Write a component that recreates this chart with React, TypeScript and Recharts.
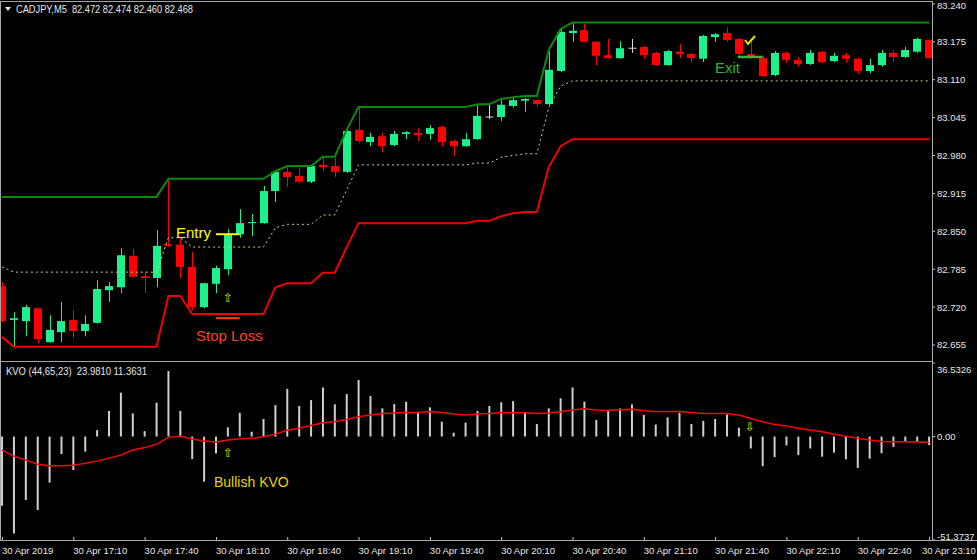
import React from "react";
import { ComposedChart, Bar, Line, XAxis, YAxis, ReferenceLine } from "recharts";

// 5-minute bars, 30 Apr 2019, 16:40 .. 23:10
const tickBars = [0, 6, 12, 18, 24, 30, 36, 42, 48, 54, 60, 66, 72, 78];
const tickLabels = [
  "30 Apr 2019", "30 Apr 17:10", "30 Apr 17:40", "30 Apr 18:10", "30 Apr 18:40",
  "30 Apr 19:10", "30 Apr 19:40", "30 Apr 20:10", "30 Apr 20:40", "30 Apr 21:10",
  "30 Apr 21:40", "30 Apr 22:10", "30 Apr 22:40", "30 Apr 23:10",
];

const opens = [
  82.756, 82.698, 82.696, 82.718, 82.660, 82.677, 82.698, 82.679, 82.693, 82.749,
  82.754, 82.808, 82.773, 82.770, 82.828, 82.827, 82.789, 82.720, 82.760, 82.785,
  82.845, 82.864, 82.864, 82.919, 82.952, 82.945, 82.935, 82.964, 82.962, 82.952,
  83.024, 83.003, 83.013, 82.998, 83.017, 83.019, 83.017, 83.029, 83.005, 82.996,
  83.008, 83.046, 83.046, 83.065, 83.074, 83.075, 83.068, 83.125, 83.190, 83.195,
  83.175, 83.152, 83.147, 83.164, 83.166, 83.156, 83.135, 83.158, 83.154, 83.146,
  83.183, 83.190, 83.180, 83.154, 83.147, 83.118, 83.156, 83.144, 83.137, 83.158,
  83.142, 83.152, 83.146, 83.125, 83.135, 83.156, 83.149, 83.158, 83.178,
];
const highs = [
  82.763, 82.712, 82.724, 82.719, 82.706, 82.729, 82.715, 82.706, 82.766, 82.763,
  82.821, 82.820, 82.780, 82.852, 82.940, 82.840, 82.815, 82.762, 82.791, 82.854,
  82.888, 82.880, 82.928, 82.955, 82.960, 82.959, 82.964, 82.977, 82.977, 83.024,
  83.063, 83.019, 83.019, 83.022, 83.022, 83.027, 83.032, 83.031, 83.007, 83.019,
  83.067, 83.067, 83.077, 83.080, 83.079, 83.077, 83.158, 83.199, 83.207, 83.206,
  83.176, 83.180, 83.176, 83.180, 83.168, 83.158, 83.161, 83.171, 83.156, 83.187,
  83.190, 83.200, 83.182, 83.176, 83.151, 83.159, 83.158, 83.149, 83.161, 83.159,
  83.156, 83.156, 83.147, 83.146, 83.161, 83.161, 83.166, 83.182, 83.180,
];
const lows = [
  82.694, 82.652, 82.670, 82.658, 82.659, 82.660, 82.667, 82.670, 82.692, 82.729,
  82.744, 82.771, 82.744, 82.754, 82.823, 82.770, 82.715, 82.718, 82.744, 82.775,
  82.839, 82.842, 82.863, 82.900, 82.926, 82.933, 82.933, 82.953, 82.943, 82.950,
  83.001, 82.996, 82.986, 82.996, 83.008, 83.005, 83.007, 82.995, 82.979, 82.995,
  83.007, 83.043, 83.039, 83.062, 83.055, 83.063, 83.067, 83.123, 83.175, 83.174,
  83.135, 83.146, 83.146, 83.156, 83.146, 83.134, 83.134, 83.147, 83.139, 83.140,
  83.175, 83.175, 83.149, 83.146, 83.115, 83.116, 83.139, 83.132, 83.135, 83.139,
  83.140, 83.139, 83.120, 83.121, 83.132, 83.140, 83.147, 83.156, 83.146,
];
const closes = [
  82.696, 82.701, 82.720, 82.665, 82.681, 82.696, 82.679, 82.691, 82.751, 82.756,
  82.809, 82.772, 82.770, 82.825, 82.825, 82.789, 82.720, 82.761, 82.787, 82.845,
  82.864, 82.866, 82.919, 82.952, 82.943, 82.935, 82.962, 82.960, 82.952, 83.022,
  83.005, 83.012, 82.996, 83.017, 83.020, 83.015, 83.027, 83.003, 82.996, 83.008,
  83.048, 83.046, 83.067, 83.075, 83.077, 83.068, 83.127, 83.192, 83.194, 83.175,
  83.151, 83.147, 83.164, 83.164, 83.152, 83.135, 83.159, 83.154, 83.147, 83.185,
  83.188, 83.178, 83.154, 83.149, 83.116, 83.156, 83.144, 83.137, 83.156, 83.140,
  83.151, 83.146, 83.125, 83.135, 83.156, 83.149, 83.161, 83.180, 83.147,
];

const upperBand = [
  82.909, 82.909, 82.909, 82.909, 82.909, 82.909, 82.909, 82.909, 82.909, 82.909,
  82.909, 82.909, 82.909, 82.909, 82.940, 82.940, 82.940, 82.940, 82.940, 82.940,
  82.940, 82.940, 82.940, 82.953, 82.962, 82.962, 82.962, 82.978, 82.978, 83.024,
  83.063, 83.063, 83.063, 83.063, 83.063, 83.063, 83.063, 83.063, 83.063, 83.063,
  83.068, 83.068, 83.077, 83.080, 83.082, 83.082, 83.161, 83.197, 83.208, 83.208,
  83.208, 83.208, 83.208, 83.208, 83.208, 83.208, 83.208, 83.208, 83.208, 83.208,
  83.208, 83.208, 83.208, 83.208, 83.208, 83.208, 83.208, 83.208, 83.208, 83.208,
  83.208, 83.208, 83.208, 83.208, 83.208, 83.208, 83.208, 83.208, 83.208,
];
const middleBand = [
  82.789, 82.780, 82.780, 82.780, 82.780, 82.780, 82.780, 82.780, 82.780, 82.780,
  82.780, 82.780, 82.780, 82.780, 82.839, 82.839, 82.823, 82.823, 82.823, 82.823,
  82.823, 82.823, 82.823, 82.856, 82.862, 82.862, 82.862, 82.878, 82.878, 82.921,
  82.964, 82.964, 82.964, 82.964, 82.964, 82.964, 82.964, 82.964, 82.964, 82.964,
  82.967, 82.967, 82.977, 82.980, 82.983, 82.983, 83.062, 83.099, 83.108, 83.108,
  83.108, 83.108, 83.108, 83.108, 83.108, 83.108, 83.108, 83.108, 83.108, 83.108,
  83.108, 83.108, 83.108, 83.108, 83.108, 83.108, 83.108, 83.108, 83.108, 83.108,
  83.108, 83.108, 83.108, 83.108, 83.108, 83.108, 83.108, 83.108, 83.108,
];
const lowerBand = [
  82.669, 82.652, 82.652, 82.652, 82.652, 82.652, 82.652, 82.652, 82.652, 82.652,
  82.652, 82.652, 82.652, 82.652, 82.739, 82.739, 82.708, 82.708, 82.708, 82.708,
  82.708, 82.708, 82.708, 82.754, 82.761, 82.761, 82.761, 82.779, 82.779, 82.823,
  82.864, 82.864, 82.864, 82.864, 82.864, 82.864, 82.864, 82.864, 82.864, 82.864,
  82.868, 82.868, 82.876, 82.881, 82.883, 82.883, 82.960, 82.996, 83.008, 83.008,
  83.008, 83.008, 83.008, 83.008, 83.008, 83.008, 83.008, 83.008, 83.008, 83.008,
  83.008, 83.008, 83.008, 83.008, 83.008, 83.008, 83.008, 83.008, 83.008, 83.008,
  83.008, 83.008, 83.008, 83.008, 83.008, 83.008, 83.008, 83.008, 83.008,
];

// KVO (44,65,23)
const kvoHist = [
  -34.4, -48.1, -31.5, -36.5, -22.9, -8.7, -16.6, -7.5, 3.2, 12.7,
  21.8, 11.5, 2.7, 16.8, 32.5, 12.7, -11.2, -22.4, -8.4, 4.6,
  11.8, 2.4, 8.7, 15.6, 23.6, 15.2, 18.1, 24.4, 16.0, 21.1,
  28.1, 20.1, 14.0, 16.1, 17.3, 11.8, 14.5, 7.4, 1.9, 6.9,
  12.7, 15.2, 17.0, 17.6, 11.8, 6.2, 14.0, 19.0, 24.4, 17.3,
  8.2, 12.7, 14.0, 16.0, 10.7, 6.0, 9.5, 11.8, 6.2, 7.7,
  8.7, 11.0, 4.4, -5.9, -14.7, -10.2, -4.4, -9.2, -5.9, -10.0,
  -8.0, -11.3, -15.6, -11.0, -8.3, -5.1, -2.5, -2.5, -4.2,
];
const kvoSignal = [
  -6.7, -9.7, -11.7, -13.7, -14.5, -14.5, -14.2, -13.3, -12.2, -10.7,
  -9.2, -6.7, -5.4, -3.9, -0.4, 0.2, -1.2, -2.2, -2.7, -1.7,
  -1.1, -0.9, -0.1, 1.2, 3.1, 4.1, 5.5, 6.9, 7.4, 8.5,
  9.9, 10.7, 11.5, 11.7, 12.0, 12.0, 12.5, 12.0, 11.2, 10.7,
  11.2, 11.5, 11.8, 11.8, 11.8, 11.5, 11.7, 12.3, 13.2, 13.8,
  13.2, 13.0, 13.3, 13.5, 12.8, 12.5, 12.5, 12.5, 12.0, 11.5,
  11.5, 11.5, 10.7, 9.0, 7.4, 6.0, 5.2, 4.1, 3.2, 2.4,
  1.2, 0.2, -0.9, -1.7, -2.4, -2.6, -2.6, -2.7, -2.9,
];

const priceTicks = [82.655, 82.72, 82.785, 82.85, 82.915, 82.98, 83.045, 83.11, 83.175, 83.24];
const kvoTicks = [-51.3737, 0, 36.5326];

// trade marks
const entryLevel = 82.845;
const stopLevel = 82.701;
const exitLevel = 83.149;

const rows = opens.map((o, i) => ({
  i,
  open: o,
  high: highs[i],
  low: lows[i],
  close: closes[i],
  upper: upperBand[i],
  middle: middleBand[i],
  lower: lowerBand[i],
  kvo: kvoHist[i],
  signal: kvoSignal[i],
}));

const BULL = "#1ef08c";
const BEAR = "#ff0000";
const DOJI = "#d8d8d8";
const FRAME = "#a8a8a8";
const UI_FONT = '"Liberation Sans", Arial, sans-serif';
const X_DOMAIN: [number, number] = [-0.168, 78.25];

const Candle = (props: any) => {
  const { x, y, width, height, payload } = props;
  if (!payload) return null;
  const top = Math.min(y, y + height);
  const h = Math.abs(height);
  const { open, close, high, low } = payload;
  const k = high > low ? h / (high - low) : 0;
  const cx = Math.round(x + width / 2) + 0.5;
  const yO = top + (high - open) * k;
  const yC = top + (high - close) * k;
  const color = close > open ? BULL : close < open ? BEAR : DOJI;
  const bTop = Math.min(yO, yC);
  const bH = Math.max(1, Math.abs(yC - yO));
  return (
    <g>
      <line x1={cx} x2={cx} y1={top} y2={top + h} stroke={color} strokeWidth={1} />
      {close === open ? (
        <line x1={cx - 4} x2={cx + 4} y1={yO} y2={yO} stroke={color} strokeWidth={1} />
      ) : (
        <rect x={cx - 4.5} y={bTop} width={8} height={bH} fill={color} />
      )}
    </g>
  );
};

const PriceTick = ({ x, y, payload }: any) => (
  <g>
    <line x1={x} x2={x + 3} y1={y} y2={y} stroke="#c8c8c8" />
    <text x={x + 5} y={Math.max(y + 3.4, 9)} fill="#e8e8e8" fontSize={9.5} fontFamily={UI_FONT}>
      {payload.value.toFixed(3)}
    </text>
  </g>
);

const KvoTick = ({ x, y, payload }: any) => {
  const v = payload.value;
  const label = v === 0 ? "0.00" : v.toFixed(4);
  const ty = Math.min(Math.max(y + 3.5, 11.5), 178.5);
  return (
    <g>
      <line x1={x} x2={x + 3} y1={y} y2={y} stroke="#c8c8c8" />
      <text x={x + 5} y={ty} fill="#e8e8e8" fontSize={9.5} fontFamily={UI_FONT}>
        {label}
      </text>
    </g>
  );
};

const TimeTick = ({ x, y, payload }: any) => {
  const idx = tickBars.indexOf(payload.value);
  // keep the last label inside the window
  const tx = Math.min(x, 977 - 55);
  return (
    <g>
      <line x1={x + 0.5} x2={x + 0.5} y1={y - 3} y2={y + 1} stroke="#c8c8c8" />
      <text x={tx} y={y + 13.5} fill="#e8e8e8" fontSize={9.5} fontFamily={UI_FONT}>
        {tickLabels[idx]}
      </text>
    </g>
  );
};

export default function App() {
  return (
    <div
      style={{
        position: "relative",
        width: 977,
        height: 560,
        background: "#000",
        overflow: "hidden",
      }}
    >
      <style>{`body{margin:0;background:#000}`}</style>

      <div style={{ position: "absolute", left: 0, top: 0 }}>
        <ComposedChart width={977} height={361} data={rows} margin={{ top: 0, right: 0, left: 0, bottom: 0 }}>
          <XAxis type="number" dataKey="i" domain={X_DOMAIN} allowDataOverflow hide />
          <YAxis
            orientation="right"
            width={45}
            domain={[82.6276, 83.2467]}
            allowDataOverflow
            ticks={priceTicks}
            interval={0}
            axisLine={false}
            tickLine={false}
            tickSize={0}
            tickMargin={0}
            tick={<PriceTick />}
          />
          <Bar
            dataKey={(d: any) => [d.low, d.high]}
            barSize={8}
            shape={(p: any) => <Candle {...p} />}
            isAnimationActive={false}
          />
          <Line type="linear" dataKey="upper" stroke="#0a8a0a" strokeWidth={2} dot={false} activeDot={false} isAnimationActive={false} />
          <Line type="linear" dataKey="lower" stroke="#f00000" strokeWidth={2} dot={false} activeDot={false} isAnimationActive={false} />
          <Line type="linear" dataKey="middle" stroke="#d4cc90" strokeWidth={1} strokeDasharray="2 3" dot={false} activeDot={false} isAnimationActive={false} />
          <ReferenceLine segment={[{ x: 18, y: entryLevel }, { x: 20, y: entryLevel }]} stroke="#ffff00" strokeWidth={2} />
          <ReferenceLine segment={[{ x: 18, y: stopLevel }, { x: 20, y: stopLevel }]} stroke="#ff4500" strokeWidth={2} />
          <ReferenceLine segment={[{ x: 61.9, y: exitLevel }, { x: 64, y: exitLevel }]} stroke="#3cb43c" strokeWidth={2.5} />
        </ComposedChart>
      </div>

      <div style={{ position: "absolute", left: 0, top: 361 }}>
        <ComposedChart width={977} height={199} data={rows} margin={{ top: 2, right: 0, left: 0, bottom: 0 }}>
          <XAxis
            type="number"
            dataKey="i"
            domain={X_DOMAIN}
            allowDataOverflow
            ticks={tickBars}
            interval={0}
            height={20}
            axisLine={false}
            tickLine={false}
            tickSize={0}
            tickMargin={0}
            tick={<TimeTick />}
          />
          <YAxis
            orientation="right"
            width={45}
            domain={[-51.3737, 36.5326]}
            allowDataOverflow
            ticks={kvoTicks}
            interval={0}
            axisLine={false}
            tickLine={false}
            tickSize={0}
            tickMargin={0}
            tick={<KvoTick />}
          />
          <Bar dataKey="kvo" barSize={2} fill="#d0d0d0" isAnimationActive={false} />
          <Line type="linear" dataKey="signal" stroke="#ff0000" strokeWidth={1.5} dot={false} activeDot={false} isAnimationActive={false} />
        </ComposedChart>
      </div>

      <svg
        width={977}
        height={560}
        style={{ position: "absolute", left: 0, top: 0, pointerEvents: "none" }}
      >
        {/* frame */}
        <line x1={0} x2={933} y1={1.5} y2={1.5} stroke={FRAME} />
        <line x1={0.5} x2={0.5} y1={1} y2={541} stroke={FRAME} />
        <line x1={932.5} x2={932.5} y1={1} y2={541} stroke={FRAME} />
        <line x1={0} x2={933} y1={361.5} y2={361.5} stroke={FRAME} />
        <line x1={0} x2={977} y1={540.5} y2={540.5} stroke={FRAME} />

        {/* headers */}
        <polygon points="5,7 11,7 8,11" fill="#e8e8e8" />
        <text x={16} y={13} fill="#e8e8e8" fontSize={10} fontFamily={UI_FONT} textLength={177} lengthAdjust="spacingAndGlyphs" style={{ whiteSpace: "pre" }}>
          {"CADJPY,M5  82.472 82.474 82.460 82.468"}
        </text>
        <text x={6} y={375} fill="#e8e8e8" fontSize={10} fontFamily={UI_FONT} textLength={141} lengthAdjust="spacingAndGlyphs" style={{ whiteSpace: "pre" }}>
          {"KVO (44,65,23)  23.9810 11.3631"}
        </text>

        {/* annotations */}
        <text x={176} y={238} fill="#ffff00" fontSize={15} fontFamily={UI_FONT}>Entry</text>
        <text x={196} y={341} fill="#ff4019" fontSize={15} fontFamily={UI_FONT}>Stop Loss</text>
        <text x={715} y={73} fill="#32b432" fontSize={15} fontFamily={UI_FONT}>Exit</text>
        <text x={214} y={487} fill="#e8d400" fontSize={14} fontFamily={UI_FONT}>Bullish KVO</text>
        <text x={228} y={302} fill="#e0e000" fontSize={12} textAnchor="middle" fontFamily="DejaVu Sans">⇧</text>
        <text x={228} y={457} fill="#e0e000" fontSize={12} textAnchor="middle" fontFamily="DejaVu Sans">⇧</text>
        <text x={750} y={431} fill="#e0e000" fontSize={12} textAnchor="middle" fontFamily="DejaVu Sans">⇩</text>
        <polyline points="745,40 748,44 755,36" fill="none" stroke="#e6e600" strokeWidth={2} />
      </svg>
    </div>
  );
}
